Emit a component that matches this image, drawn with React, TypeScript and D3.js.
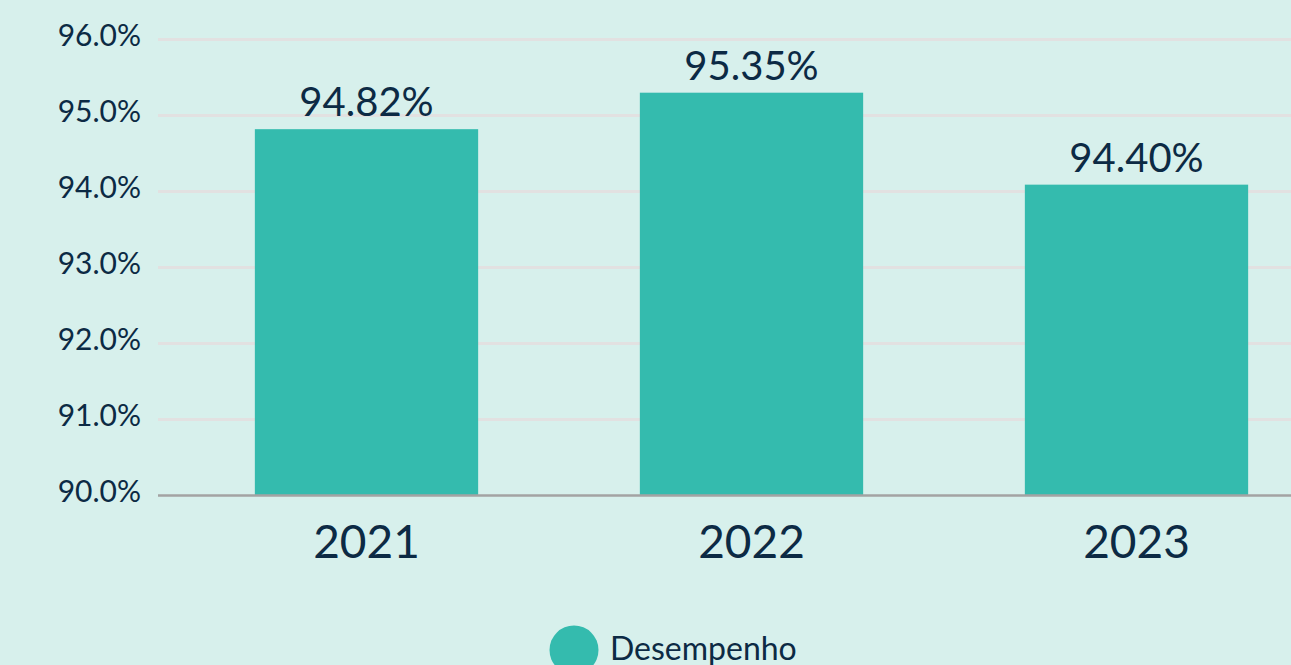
import { useEffect, useRef } from 'react'
import * as d3 from 'd3'

const years = ['2021', '2022', '2023']
// bar heights as drawn in the picture
const values = [94.82, 95.30, 94.09]
// value labels as printed above the bars
const valueLabels = ['94.82%', '95.35%', '94.40%']
const yTicks = [90, 91, 92, 93, 94, 95, 96]
const seriesName = 'Desempenho'

const WIDTH = 1291
const HEIGHT = 665
const BG = '#d7f0ec'
const BAR = '#34bbae'
const INK = '#0c2a44'
const FONT = 'Lato, "Open Sans", sans-serif'

export default function App() {
  const svgRef = useRef<SVGSVGElement | null>(null)

  useEffect(() => {
    const el = svgRef.current
    if (!el) return

    const plotLeft = 158
    const yScale = d3.scaleLinear().domain([90, 96]).range([495.5, 39.5])
    const xScale = d3.scaleBand<string>()
      .domain(years)
      .range([174, 1329])
      .paddingInner(0.42)
      .paddingOuter(0.21)

    const svg = d3.select(el)
    svg.selectAll('*').remove()

    svg.append('rect')
      .attr('width', WIDTH)
      .attr('height', HEIGHT)
      .attr('fill', BG)

    // gridlines
    svg.append('g')
      .selectAll('line')
      .data(yTicks.filter(t => t !== 90))
      .join('line')
      .attr('x1', plotLeft)
      .attr('x2', WIDTH)
      .attr('y1', d => yScale(d))
      .attr('y2', d => yScale(d))
      .attr('stroke', '#e2e1e1')
      .attr('stroke-width', 3)

    // y tick labels
    svg.append('g')
      .selectAll('text')
      .data(yTicks)
      .join('text')
      .attr('x', 141)
      .attr('y', d => yScale(d) + 6)
      .attr('text-anchor', 'end')
      .attr('fill', INK)
      .attr('font-family', FONT)
      .attr('font-size', '30px')
      .text(d => `${d.toFixed(1)}%`)

    // bars
    svg.append('g')
      .selectAll('rect')
      .data(values)
      .join('rect')
      .attr('x', (_, i) => xScale(years[i])!)
      .attr('width', xScale.bandwidth())
      .attr('y', d => yScale(d))
      .attr('height', d => yScale(90) - yScale(d))
      .attr('fill', BAR)

    // baseline axis
    svg.append('line')
      .attr('x1', plotLeft)
      .attr('x2', WIDTH)
      .attr('y1', yScale(90))
      .attr('y2', yScale(90))
      .attr('stroke', '#a3a3a3')
      .attr('stroke-width', 2.5)

    // value labels
    svg.append('g')
      .selectAll('text')
      .data(values)
      .join('text')
      .attr('x', (_, i) => xScale(years[i])! + xScale.bandwidth() / 2)
      .attr('y', d => yScale(d) - 13)
      .attr('text-anchor', 'middle')
      .attr('fill', INK)
      .attr('font-family', FONT)
      .attr('font-size', '40px')
      .text((_, i) => valueLabels[i])

    // x category labels
    svg.append('g')
      .selectAll('text')
      .data(years)
      .join('text')
      .attr('x', d => xScale(d)! + xScale.bandwidth() / 2)
      .attr('y', 558)
      .attr('text-anchor', 'middle')
      .attr('fill', INK)
      .attr('font-family', FONT)
      .attr('font-size', '46px')
      .text(d => d)

    // legend
    const legend = svg.append('g')
    legend.append('circle')
      .attr('cx', 574)
      .attr('cy', 650)
      .attr('r', 24.5)
      .attr('fill', BAR)
    legend.append('text')
      .attr('x', 610)
      .attr('y', 660)
      .attr('fill', INK)
      .attr('font-family', FONT)
      .attr('font-size', '32px')
      .text(seriesName)
  }, [])

  return (
    <svg
      ref={svgRef}
      width={WIDTH}
      height={HEIGHT}
      style={{ display: 'block', position: 'fixed', left: 0, top: 0 }}
    />
  )
}
